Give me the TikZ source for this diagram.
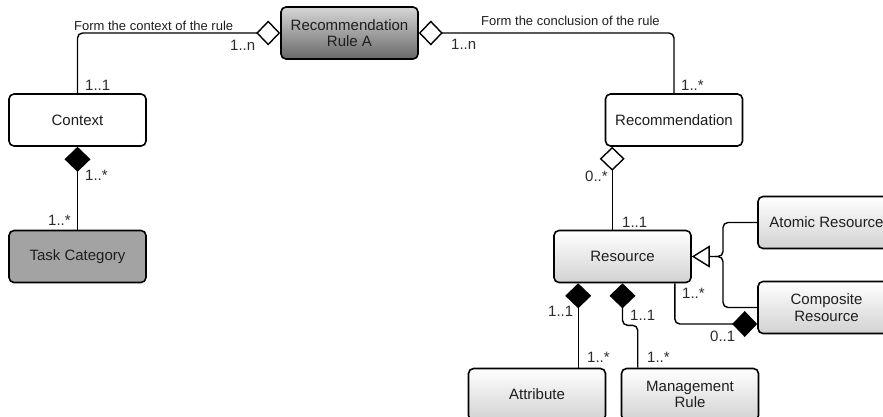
\documentclass[tikz,border=0pt]{standalone}
\usepackage{fontspec}
\setmainfont{Liberation Sans}
\usetikzlibrary{arrows.meta}
\definecolor{ruletop}{HTML}{D6D6D6}
\definecolor{rulebot}{HTML}{686868}
\definecolor{restop}{HTML}{FFFFFF}
\definecolor{resbot}{HTML}{D2D2D2}
\definecolor{taskfill}{HTML}{A3A3A3}
\definecolor{ink}{HTML}{1E1E1E}
\definecolor{multink}{HTML}{2C2C2C}
\tikzset{
  aggrtip/.tip={Diamond[open,length=24pt,width=25pt]},
  comptip/.tip={Diamond[length=25pt,width=26pt]},
  gentip/.tip={Triangle[open,length=18pt,width=22pt]}
}
\begin{document}
\begin{tikzpicture}[x=1pt,y=-1pt,
  umlbox/.style={draw=black, line width=1.6pt, rounded corners=5pt,
    minimum width=137pt, minimum height=52pt, inner sep=0pt,
    align=center, text=ink, font=\fontsize{15}{16.5}\selectfont},
  plainbox/.style={umlbox, fill=white},
  shadebox/.style={umlbox, top color=restop, bottom color=resbot},
  conn/.style={draw=black, line width=1.4pt, rounded corners=5pt},
  mult/.style={anchor=west, inner sep=0pt, text=multink,
    font=\fontsize{15}{15}\selectfont},
  role/.style={anchor=west, inner sep=0pt, text=ink,
    font=\fontsize{13}{13}\selectfont}
]
\useasboundingbox (0,0) rectangle (883,416);
\clip (0,0) rectangle (883,416);

% classes
\node[umlbox, top color=ruletop, bottom color=rulebot] (rulea) at (349.5,33) {Recommendation\\Rule A};
\node[plainbox] (ctx) at (77.5,120) {Context};
\node[umlbox, fill=taskfill] (task) at (77.5,256.5) {Task Category};
\node[plainbox] (rec) at (674,120) {Recommendation};
\node[shadebox] (res) at (622.5,256.5) {Resource};
\node[shadebox] (atom) at (826.5,222.5) {Atomic Resource};
\node[shadebox] (compo) at (826.5,307.5) {Composite\\Resource};
\node[shadebox] (attr) at (537,394.5) {Attribute};
\node[shadebox] (mgmt) at (690,394.5) {Management\\Rule};

% associations
\draw[conn, -{aggrtip}] (ctx.north) |- (rulea.west);
\draw[conn, {aggrtip}-] (rulea.east) -| (rec.north);
\draw[conn, {comptip}-] (ctx.south) -- (task.north);
\draw[conn, {aggrtip}-] ([xshift=7.5pt]rec.south west) -- ([xshift=59pt]res.north west);

% generalization
\coordinate (gj) at (723,256.5);
\draw[conn, -{gentip}] (atom.west) -| (gj) -- (res.east);
\draw[conn] (compo.west) -| (gj) -- ([xshift=-8pt]gj);

% compositions below the resource
\draw[conn, {comptip}-] ([yshift=-16.5pt]compo.west) -| ([xshift=-17pt]res.south east);
\draw[conn, {comptip}-] ([xshift=25pt]res.south west) -- ([xshift=25pt]res.south west |- attr.north);
\draw[conn, {comptip}-] (res.south) -- ++(0,42) -| ([xshift=17pt]mgmt.north west);

% role names
\node[role] (lctx) at (74,25.5) {Form the context of the rule};
\node[role] (lcon) at (481,20.5) {Form the conclusion of the rule};

% multiplicities
\node[mult] (m1) at (230,45) {1..n};
\node[mult] (m2) at (85,85.5) {1..1};
\node[mult] (m3) at (451,44) {1..n};
\node[mult] (m4) at (681,85) {1..*};
\node[mult] (m5) at (85,175.5) {1..*};
\node[mult] (m6) at (48,220) {1..*};
\node[mult] (m7) at (585,176.5) {0..*};
\node[mult] (m8) at (622,222) {1..1};
\node[mult] (m9) at (682,293.5) {1..*};
\node[mult] (m10) at (710,336) {0..1};
\node[mult] (m11) at (548,311) {1..1};
\node[mult] (m12) at (630,315.5) {1..1};
\node[mult] (m13) at (587,357.5) {1..*};
\node[mult] (m14) at (647,357.5) {1..*};
\end{tikzpicture}
\end{document}
